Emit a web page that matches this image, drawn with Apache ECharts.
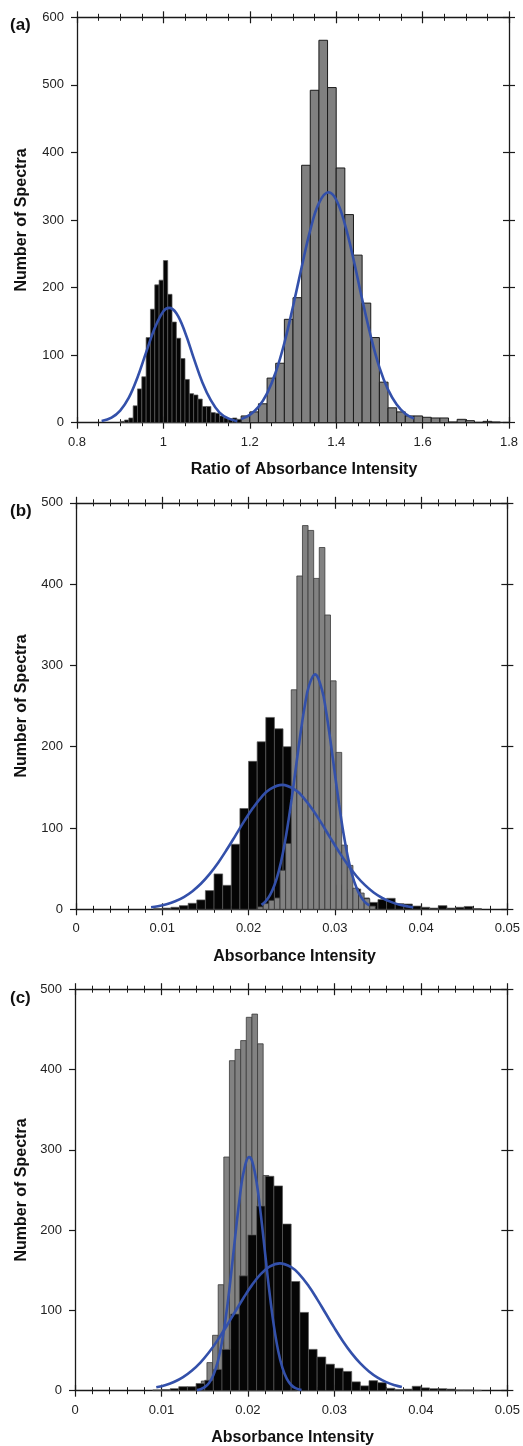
<!DOCTYPE html>
<html><head><meta charset="utf-8">
<script src="https://cdn.jsdelivr.net/npm/echarts@6.0.0/dist/echarts.min.js"></script>
<style>html,body{margin:0;padding:0;background:#fff}#c{width:523px;height:1446px}</style>
</head><body><div id="c"></div>
<script>
// ---------- Panel (a): ratio of absorbance intensity ----------
const aBlackStart = [0.90,0.91,0.92,0.93,0.94,0.95,0.96,0.97,0.98,0.99,1.00,1.01,1.02,1.03,1.04,1.05,1.06,1.07,1.08,1.09,1.10,1.11,1.12,1.13,1.14,1.15,1.16,1.17];
const aBlackCount = [2,4,7,25,50,68,126,168,204,211,240,190,149,125,95,64,43,41,35,24,24,15,14,10,7,6,7,5];
const aBlackBin = 0.01;
const aGrayStart = [1.18,1.20,1.22,1.24,1.26,1.28,1.30,1.32,1.34,1.36,1.38,1.40,1.42,1.44,1.46,1.48,1.50,1.52,1.54,1.56,1.58,1.60,1.62,1.64,1.66,1.68,1.70,1.72,1.74,1.76];
const aGrayCount = [10,16,28,66,88,153,185,381,492,566,496,377,308,248,177,126,60,22,16,10,10,8,7,7,1,5,3,0.5,2,1];
const aGrayBin = 0.02;
const aFitBlackX = [0.857,0.88,0.90,0.92,0.94,0.96,0.98,1.00,1.013,1.03,1.05,1.07,1.09,1.11,1.13,1.15,1.171];
const aFitBlackY = [2.4,7.6,18,37,67,104,140,165,170,162,134,96,60,33,15,6.3,2.1];
const aFitGrayX = [1.18,1.20,1.22,1.24,1.26,1.28,1.30,1.32,1.34,1.36,1.382,1.40,1.42,1.44,1.46,1.48,1.50,1.52,1.54,1.56,1.58];
const aFitGrayY = [5.3,11.6,23.4,43.5,74.6,118,172,230,285,325,341,330,294,242,183,128,82,49,27,13.4,6.2];

// ---------- Panel (b): absorbance intensity ----------
const bBlackStart = [0.009,0.010,0.011,0.012,0.013,0.014,0.015,0.016,0.017,0.018,0.019,0.020,0.021,0.022,0.023,0.024,0.025,0.026,0.027,0.028,0.029,0.030,0.031,0.032,0.033,0.034,0.035,0.036,0.037,0.038,0.039,0.040,0.041,0.042,0.043,0.044,0.045,0.046];
const bBlackCount = [1,1.5,2.5,4.5,7.4,11.5,23,43.5,29.5,80,124,182,206,236,222,200,165,130,100,72,52,30,24,25,14,8.5,12,13.5,7,6.5,4,2.5,1.5,4.5,1.5,2.5,3.5,1];
const bBlackBin = 0.001;
const bGrayStart = [0.02105,0.0217,0.02235,0.023,0.02365,0.0243,0.02495,0.0256,0.02625,0.0269,0.02755,0.0282,0.02885,0.0295,0.03015,0.0308,0.03145,0.0321,0.03275,0.0334,0.03405];
const bGrayCount = [3,7,11,14,48,81,270,410,472,466,407,445,362,281,193,79,54,26,20,13,4];
const bGrayBin = 0.00065;
const bFitBlackX = [0.0087,0.0095,0.0105,0.0115,0.0125,0.0135,0.0145,0.0155,0.0165,0.0175,0.0185,0.0195,0.0205,0.0215,0.0225,0.0239,0.0255,0.0265,0.0275,0.0285,0.0295,0.0305,0.0315,0.0325,0.0335,0.0345,0.0355,0.0365,0.0375,0.0385,0.0391];
const bFitBlackY = [2.5,3.8,6.3,9.9,15.1,22.3,31.7,43.6,57.7,73.8,91,108.4,124.5,138.1,147.8,153,146.2,135.6,121.5,105,87.6,70.5,54.7,41,29.7,20.7,13.9,9.1,5.7,3.4,2.5];
const bFitGrayX = [0.0215,0.022,0.0225,0.023,0.0235,0.024,0.0245,0.025,0.0255,0.026,0.0265,0.027,0.0277,0.0285,0.029,0.0295,0.030,0.0305,0.031,0.0315,0.032,0.0325,0.033,0.0335,0.034];
const bFitGrayY = [5.5,10.1,17.7,29.5,46.7,70.3,100.3,136.1,175.3,214.4,249,274.7,289,270.5,242.7,206.8,167.3,128.6,93.8,65,42.8,26.7,15.9,8.9,4.8];

// ---------- Panel (c): absorbance intensity ----------
const cGrayStart = [0.01396,0.01461,0.01526,0.01591,0.01656,0.01721,0.01786,0.01851,0.01916,0.01981,0.02046,0.02111,0.02176,0.02241,0.02306,0.02371,0.02436,0.02501];
const cGrayCount = [4,12,35,69,132,291,411,425,436,465,469,432,268,150,70,25,8,3];
const cGrayBin = 0.00065;
const cBlackStart = [0.009,0.010,0.011,0.012,0.013,0.014,0.015,0.016,0.017,0.018,0.019,0.020,0.021,0.022,0.023,0.024,0.025,0.026,0.027,0.028,0.029,0.030,0.031,0.032,0.033,0.034,0.035,0.036,0.037,0.038,0.039,0.040,0.041,0.042,0.043,0.044,0.045,0.046];
const cBlackCount = [1,1.5,2.5,5,5,9,13,26.5,51.5,95.5,143,194,230,267,255,207.5,136,97.5,51.5,42,33,28,24,11,6,12.5,10,3,1.5,2,5.5,3.5,2.5,2.5,2,1,1,0.5];
const cBlackBin = 0.001;
const cFitGrayX = [0.0141,0.0145,0.015,0.0155,0.016,0.0165,0.017,0.0175,0.018,0.0185,0.019,0.0195,0.02015,0.0205,0.021,0.0215,0.022,0.0225,0.023,0.0235,0.024,0.0245,0.025,0.0255,0.0262];
const cFitGrayY = [0.9,1.9,4.4,9.6,19.2,35.5,60.8,96.1,140.3,189.4,236.2,272.2,291,285.4,259.6,218.3,169.6,121.7,80.8,49.5,28.1,14.7,7.1,3.2,0.9];
const cFitBlackX = [0.0094,0.0105,0.0115,0.0125,0.0135,0.0145,0.0155,0.0165,0.0175,0.0185,0.0195,0.0205,0.0215,0.0225,0.0237,0.025,0.026,0.027,0.028,0.029,0.030,0.031,0.032,0.033,0.034,0.035,0.036,0.037,0.0378];
const cFitBlackY = [4.2,7.1,11.2,17,24.9,35.1,47.9,63,80,98,115.8,132.1,145.4,154.5,158.5,153.8,144.3,130.6,114.1,96.1,78.2,61.4,46.5,34,24,16.3,10.7,6.8,4.6];

// ---------- Texts ----------
const panelLabels = ['(a)', '(b)', '(c)'];
const xTitles = ['Ratio of Absorbance Intensity', 'Absorbance Intensity', 'Absorbance Intensity'];
const yTitle = 'Number of Spectra';

// ---------- Layout / style ----------
const FONT = '"Liberation Sans", Arial, Helvetica, sans-serif';
const AX = '#1a1a1a';
const BLUE = '#3350aa';
const grids = [
  {left: 77, top: 17.3, width: 432, height: 405.4},
  {left: 76, top: 502.8, width: 434.7, height: 406.5},
  {left: 75, top: 989.2, width: 432.7, height: 401.5}
];
const xScales = [
  {min: 0.8, max: 1.8, interval: 0.2, minor: 4},
  {min: 0, max: 0.05, interval: 0.01, minor: 5},
  {min: 0, max: 0.05, interval: 0.01, minor: 5}
];
const yMax = [600, 500, 500];

const xAxes = [], yAxes = [];
grids.forEach(function (g, gi) {
  const s = xScales[gi];
  function xa(pos, inside, labels, line) {
    return {
      type: 'value', gridIndex: gi, position: pos, min: s.min, max: s.max, interval: s.interval,
      splitLine: {show: false},
      axisLine: {show: line, onZero: false, lineStyle: {color: AX, width: 1.3}},
      axisTick: {show: true, inside: inside, length: 6, lineStyle: {color: AX, width: 1.2}},
      minorTick: {show: true, splitNumber: s.minor, length: 3.5, lineStyle: {color: AX, width: 1}},
      axisLabel: {show: labels, margin: 13, fontFamily: FONT, fontSize: 13, color: '#222'}
    };
  }
  xAxes.push(xa('bottom', false, true, true), xa('bottom', true, false, false),
             xa('top', false, false, true), xa('top', true, false, false));
  function ya(pos, inside, labels, line) {
    return {
      type: 'value', gridIndex: gi, position: pos, min: 0, max: yMax[gi], interval: 100,
      splitLine: {show: false},
      axisLine: {show: line, onZero: false, lineStyle: {color: AX, width: 1.3}},
      axisTick: {show: true, inside: inside, length: 6, lineStyle: {color: AX, width: 1.2}},
      axisLabel: {show: labels, margin: 13, fontFamily: FONT, fontSize: 13, color: '#222'}
    };
  }
  yAxes.push(ya('left', false, true, true), ya('right', false, false, true), ya('right', true, false, false));
});

function hist(gi, starts, counts, bin, fill, stroke, lw, z) {
  return {
    type: 'custom', xAxisIndex: gi * 4, yAxisIndex: gi * 3, z: z, silent: true,
    data: starts.map(function (s, i) { return [s, counts[i]]; }),
    encode: {x: 0, y: 1},
    renderItem: function (params, api) {
      const x0 = api.value(0), v = api.value(1);
      const p0 = api.coord([x0, 0]);
      const p1 = api.coord([x0 + bin, v]);
      return {type: 'rect',
        shape: {x: p0[0], y: p1[1], width: p1[0] - p0[0], height: p0[1] - p1[1]},
        style: {fill: fill, stroke: stroke, lineWidth: lw}};
    }
  };
}
function fit(gi, xs, ys) {
  return {
    type: 'line', xAxisIndex: gi * 4, yAxisIndex: gi * 3, z: 10, silent: true,
    data: xs.map(function (x, i) { return [x, ys[i]]; }),
    smooth: 0.4, showSymbol: false, symbol: 'none',
    lineStyle: {color: BLUE, width: 2.6}
  };
}

const series = [
  hist(0, aBlackStart, aBlackCount, aBlackBin, '#050505', '#5a5a5a', 0.7, 3),
  hist(0, aGrayStart, aGrayCount, aGrayBin, '#808080', '#1a1a1a', 1, 4),
  fit(0, aFitBlackX, aFitBlackY),
  fit(0, aFitGrayX, aFitGrayY),
  hist(1, bBlackStart, bBlackCount, bBlackBin, '#050505', '#5a5a5a', 0.7, 3),
  hist(1, bGrayStart, bGrayCount, bGrayBin, '#828282', '#3a3a3a', 0.8, 4),
  fit(1, bFitBlackX, bFitBlackY),
  fit(1, bFitGrayX, bFitGrayY),
  hist(2, cGrayStart, cGrayCount, cGrayBin, '#828282', '#3a3a3a', 0.8, 3),
  hist(2, cBlackStart, cBlackCount, cBlackBin, '#050505', '#5a5a5a', 0.7, 4),
  fit(2, cFitGrayX, cFitGrayY),
  fit(2, cFitBlackX, cFitBlackY)
];

const panelPos = [[10, 25], [10, 511], [10, 998]];
const xTitlePos = [[304, 470], [294.5, 957], [292.5, 1438]];
const yTitlePos = [[21.5, 220], [21.5, 706], [21.5, 1190]];
const graphic = [];
for (let i = 0; i < 3; i++) {
  graphic.push({type: 'text', x: panelPos[i][0], y: panelPos[i][1],
    style: {text: panelLabels[i], font: 'bold 17px ' + FONT, fill: '#111', align: 'left', verticalAlign: 'middle'}});
  graphic.push({type: 'text', x: xTitlePos[i][0], y: xTitlePos[i][1],
    style: {text: xTitles[i], font: 'bold 16px ' + FONT, fill: '#111', align: 'center', verticalAlign: 'middle'}});
  graphic.push({type: 'text', x: yTitlePos[i][0], y: yTitlePos[i][1], rotation: Math.PI / 2,
    style: {text: yTitle, font: 'bold 16px ' + FONT, fill: '#111', align: 'center', verticalAlign: 'middle'}});
}

const chart = echarts.init(document.getElementById('c'), null, {renderer: 'canvas'});
chart.setOption({
  animation: false,
  backgroundColor: '#ffffff',
  grid: grids,
  xAxis: xAxes,
  yAxis: yAxes,
  series: series,
  graphic: graphic
});
</script></body></html>
